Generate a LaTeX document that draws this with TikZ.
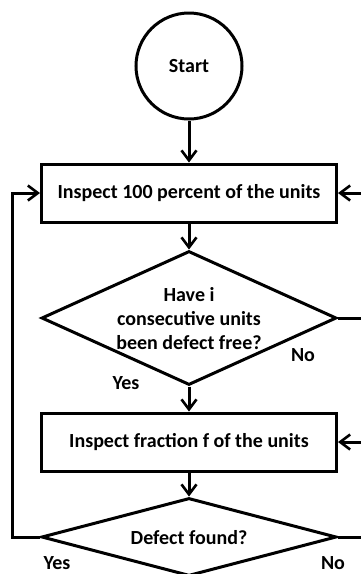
\documentclass[tikz,border=0pt]{standalone}
\usepackage{fontspec}
\setmainfont{Carlito}
\usetikzlibrary{shapes.geometric,arrows.meta}
\tikzset{
  every node/.style={font=\bfseries\fontsize{20}{24}\selectfont},
  flowline/.style={line width=3pt},
  flowarrow/.style={flowline,-{Straight Barb[length=10pt,width=15pt,line width=2.6pt]}},
  terminal/.style={circle,draw,line width=3pt,minimum size=106pt,inner sep=0pt},
  procbox/.style={rectangle,draw,line width=3pt,minimum width=295pt,minimum height=58pt,inner sep=0pt},
  decision/.style={diamond,draw,line width=3pt,inner sep=0pt},
  lbl/.style={inner sep=0pt},
}
\begin{document}
\begin{tikzpicture}[x=1pt,y=-1pt]
\useasboundingbox (0,0) rectangle (361,574);
\node[terminal] (start) at (189,66) {Start};
\node[procbox] (full) at (189,193) {Inspect 100 percent of the units};
\node[decision,minimum width=295pt,minimum height=134pt] (q1) at (189,318) {};
\node[lbl,align=center] (q1text) at (189,319) {Have i\\consecutive units\\been defect free?};
\node[procbox] (frac) at (189,442) {Inspect fraction f of the units};
\node[decision,minimum width=295pt,minimum height=78pt] (q2) at (189,537) {};
\node[lbl] (q2text) at (189,538) {Defect found?};
\node[lbl] (q1no) at (303,355) {No};
\node[lbl] (q1yes) at (126,383) {Yes};
\node[lbl] (q2yes) at (57,563) {Yes};
\node[lbl] (q2no) at (333,563) {No};
\coordinate (leftbus) at (12,0);
\coordinate (rightbus) at (380,0);
\draw[flowarrow] (start) -- (full);
\draw[flowarrow] (full) -- (q1);
\draw[flowarrow] (q1) -- (frac);
\draw[flowarrow] (frac) -- (q2);
\draw[flowarrow] (q2.west) -- (q2.west -| leftbus) -- (full.west -| leftbus) -- (full.west);
\draw[flowarrow] (q1.east) -- (q1.east -| rightbus) -- (full.east -| rightbus) -- (full.east);
\draw[flowarrow] (q2.east) -- (q2.east -| rightbus) -- (frac.east -| rightbus) -- (frac.east);
\end{tikzpicture}
\end{document}
